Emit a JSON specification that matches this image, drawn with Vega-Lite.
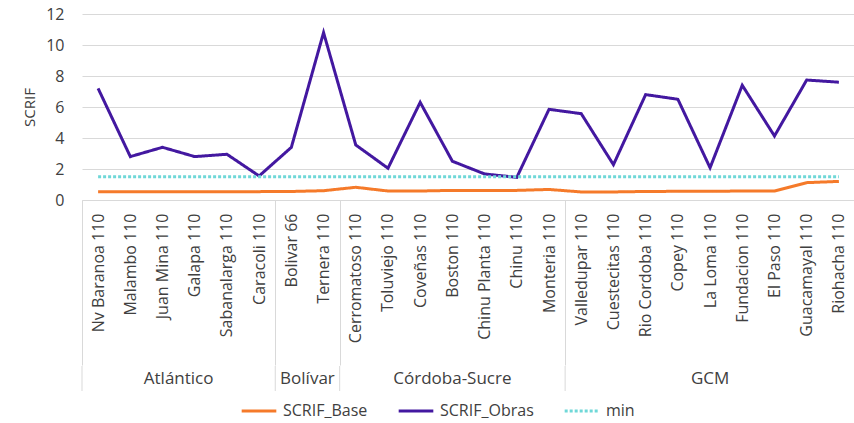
{
  "$schema": "https://vega.github.io/schema/vega-lite/v6.json",
  "padding": {"left": 22, "top": 6, "right": 0, "bottom": 2},
  "config": {
    "font": "Open Sans",
    "view": {"stroke": null},
    "concat": {"spacing": 0}
  },
  "data": {
    "values": [
      {"station": "Nv Baranoa 110", "group": "Atlántico", "SCRIF_Base": 0.54, "SCRIF_Obras": 7.2, "min": 1.5},
      {"station": "Malambo 110", "group": "Atlántico", "SCRIF_Base": 0.54, "SCRIF_Obras": 2.8, "min": 1.5},
      {"station": "Juan Mina 110", "group": "Atlántico", "SCRIF_Base": 0.54, "SCRIF_Obras": 3.4, "min": 1.5},
      {"station": "Galapa 110", "group": "Atlántico", "SCRIF_Base": 0.54, "SCRIF_Obras": 2.8, "min": 1.5},
      {"station": "Sabanalarga 110", "group": "Atlántico", "SCRIF_Base": 0.54, "SCRIF_Obras": 2.95, "min": 1.5},
      {"station": "Caracoli 110", "group": "Atlántico", "SCRIF_Base": 0.54, "SCRIF_Obras": 1.55, "min": 1.5},
      {"station": "Bolivar 66", "group": "Bolívar", "SCRIF_Base": 0.55, "SCRIF_Obras": 3.4, "min": 1.5},
      {"station": "Ternera 110", "group": "Bolívar", "SCRIF_Base": 0.6, "SCRIF_Obras": 10.8, "min": 1.5},
      {"station": "Cerromatoso 110", "group": "Córdoba-Sucre", "SCRIF_Base": 0.82, "SCRIF_Obras": 3.55, "min": 1.5},
      {"station": "Toluviejo 110", "group": "Córdoba-Sucre", "SCRIF_Base": 0.58, "SCRIF_Obras": 2.05, "min": 1.5},
      {"station": "Coveñas 110", "group": "Córdoba-Sucre", "SCRIF_Base": 0.58, "SCRIF_Obras": 6.3, "min": 1.5},
      {"station": "Boston 110", "group": "Córdoba-Sucre", "SCRIF_Base": 0.62, "SCRIF_Obras": 2.5, "min": 1.5},
      {"station": "Chinu Planta 110", "group": "Córdoba-Sucre", "SCRIF_Base": 0.62, "SCRIF_Obras": 1.68, "min": 1.5},
      {"station": "Chinu 110", "group": "Córdoba-Sucre", "SCRIF_Base": 0.62, "SCRIF_Obras": 1.46, "min": 1.5},
      {"station": "Monteria 110", "group": "Córdoba-Sucre", "SCRIF_Base": 0.68, "SCRIF_Obras": 5.85, "min": 1.5},
      {"station": "Valledupar 110", "group": "GCM", "SCRIF_Base": 0.52, "SCRIF_Obras": 5.57, "min": 1.5},
      {"station": "Cuestecitas 110", "group": "GCM", "SCRIF_Base": 0.52, "SCRIF_Obras": 2.28, "min": 1.5},
      {"station": "Rio Cordoba 110", "group": "GCM", "SCRIF_Base": 0.55, "SCRIF_Obras": 6.8, "min": 1.5},
      {"station": "Copey 110", "group": "GCM", "SCRIF_Base": 0.56, "SCRIF_Obras": 6.5, "min": 1.5},
      {"station": "La Loma 110", "group": "GCM", "SCRIF_Base": 0.56, "SCRIF_Obras": 2.08, "min": 1.5},
      {"station": "Fundacion 110", "group": "GCM", "SCRIF_Base": 0.58, "SCRIF_Obras": 7.4, "min": 1.5},
      {"station": "El Paso 110", "group": "GCM", "SCRIF_Base": 0.58, "SCRIF_Obras": 4.13, "min": 1.5},
      {"station": "Guacamayal 110", "group": "GCM", "SCRIF_Base": 1.12, "SCRIF_Obras": 7.74, "min": 1.5},
      {"station": "Riohacha 110", "group": "GCM", "SCRIF_Base": 1.2, "SCRIF_Obras": 7.6, "min": 1.5}
    ]
  },
  "resolve": {"scale": {"x": "shared"}, "legend": {"color": "shared", "strokeDash": "shared"}},
  "vconcat": [
    {
      "width": 773,
      "height": 186,
      "transform": [{"fold": ["SCRIF_Base", "SCRIF_Obras", "min"], "as": ["series", "value"]}],
      "mark": {"type": "line"},
      "encoding": {
        "x": {
          "field": "station",
          "type": "nominal",
          "sort": null,
          "bandPosition": 0.5,
          "scale": {
            "type": "band",
            "paddingInner": 0,
            "paddingOuter": 0,
            "domain": ["Nv Baranoa 110", "Malambo 110", "Juan Mina 110", "Galapa 110", "Sabanalarga 110", "Caracoli 110", "Bolivar 66", "Ternera 110", "Cerromatoso 110", "Toluviejo 110", "Coveñas 110", "Boston 110", "Chinu Planta 110", "Chinu 110", "Monteria 110", "Valledupar 110", "Cuestecitas 110", "Rio Cordoba 110", "Copey 110", "La Loma 110", "Fundacion 110", "El Paso 110", "Guacamayal 110", "Riohacha 110"]
          },
          "axis": {
            "title": null,
            "labelAngle": 270,
            "labelAlign": "right",
            "labelBaseline": "middle",
            "labelFontSize": 16,
            "labelColor": "#404040",
            "labelPadding": -152,
            "tickBand": "extent",
            "tickSize": 165,
            "tickColor": {
              "condition": {"test": "datum.extra || indexof(['Caracoli 110','Ternera 110','Monteria 110'], datum.value) >= 0", "value": "#d9d9d9"},
              "value": "transparent"
            },
            "domainColor": "#d9d9d9",
            "grid": false
          }
        },
        "y": {
          "field": "value",
          "type": "quantitative",
          "title": "SCRIF",
          "scale": {"domain": [0, 12]},
          "axis": {
            "values": [0, 2, 4, 6, 8, 10, 12],
            "domain": false,
            "ticks": false,
            "gridColor": "#d9d9d9",
            "labelFontSize": 16,
            "labelColor": "#404040",
            "labelPadding": 18,
            "titleFontSize": 15,
            "titleFontWeight": "normal",
            "titleColor": "#404040",
            "titlePadding": 8
          }
        },
        "color": {
          "field": "series",
          "type": "nominal",
          "title": null,
          "scale": {"domain": ["SCRIF_Base", "SCRIF_Obras", "min"], "range": ["#f57a2a", "#4318a0", "#6fd8d8"]},
          "legend": {
            "orient": "none",
            "legendX": 158,
            "legendY": 378,
            "direction": "horizontal",
            "symbolType": "stroke",
            "symbolSize": 1200,
            "labelFontSize": 16,
            "labelColor": "#404040",
            "labelOffset": 5,
            "columnPadding": 24
          }
        },
        "strokeDash": {
          "field": "series",
          "type": "nominal",
          "title": null,
          "scale": {"domain": ["SCRIF_Base", "SCRIF_Obras", "min"], "range": [[1, 0], [1, 0], [3, 2]]},
          "legend": {
            "orient": "none",
            "legendX": 158,
            "legendY": 378,
            "direction": "horizontal",
            "symbolType": "stroke",
            "symbolSize": 1200,
            "labelFontSize": 16,
            "labelColor": "#404040",
            "labelOffset": 5,
            "columnPadding": 24
          }
        },
        "strokeWidth": {
          "field": "series",
          "type": "nominal",
          "legend": null,
          "scale": {"domain": ["SCRIF_Base", "SCRIF_Obras", "min"], "range": [3, 3, 1.5]}
        }
      }
    },
    {
      "width": 773,
      "height": 25,
      "transform": [
        {"window": [{"op": "row_number", "as": "rn"}], "groupby": ["group"]},
        {"joinaggregate": [{"op": "count", "as": "n"}], "groupby": ["group"]}
      ],
      "layer": [
        {
          "transform": [{"filter": "datum.rn == 1"}],
          "mark": {"type": "tick", "orient": "vertical", "size": 25, "thickness": 1, "color": "#d9d9d9", "opacity": 1},
          "encoding": {
            "x": {
              "field": "station", "type": "nominal", "sort": null, "bandPosition": 0, "axis": null,
              "scale": {"type": "band", "paddingInner": 0, "paddingOuter": 0,
                "domain": ["Nv Baranoa 110", "Malambo 110", "Juan Mina 110", "Galapa 110", "Sabanalarga 110", "Caracoli 110", "Bolivar 66", "Ternera 110", "Cerromatoso 110", "Toluviejo 110", "Coveñas 110", "Boston 110", "Chinu Planta 110", "Chinu 110", "Monteria 110", "Valledupar 110", "Cuestecitas 110", "Rio Cordoba 110", "Copey 110", "La Loma 110", "Fundacion 110", "El Paso 110", "Guacamayal 110", "Riohacha 110"]}
            }
          }
        },
        {
          "transform": [{"filter": "datum.n % 2 == 1 && datum.rn == (datum.n + 1) / 2"}],
          "mark": {"type": "text", "fontSize": 17, "color": "#404040", "align": "center", "baseline": "middle"},
          "encoding": {
            "x": {
              "field": "station", "type": "nominal", "sort": null, "bandPosition": 0.5, "axis": null,
              "scale": {"type": "band", "paddingInner": 0, "paddingOuter": 0,
                "domain": ["Nv Baranoa 110", "Malambo 110", "Juan Mina 110", "Galapa 110", "Sabanalarga 110", "Caracoli 110", "Bolivar 66", "Ternera 110", "Cerromatoso 110", "Toluviejo 110", "Coveñas 110", "Boston 110", "Chinu Planta 110", "Chinu 110", "Monteria 110", "Valledupar 110", "Cuestecitas 110", "Rio Cordoba 110", "Copey 110", "La Loma 110", "Fundacion 110", "El Paso 110", "Guacamayal 110", "Riohacha 110"]}
            },
            "text": {"field": "group"}
          }
        },
        {
          "transform": [{"filter": "datum.n % 2 == 0 && datum.rn == datum.n / 2 + 1"}],
          "mark": {"type": "text", "fontSize": 17, "color": "#404040", "align": "center", "baseline": "middle"},
          "encoding": {
            "x": {
              "field": "station", "type": "nominal", "sort": null, "bandPosition": 0, "axis": null,
              "scale": {"type": "band", "paddingInner": 0, "paddingOuter": 0,
                "domain": ["Nv Baranoa 110", "Malambo 110", "Juan Mina 110", "Galapa 110", "Sabanalarga 110", "Caracoli 110", "Bolivar 66", "Ternera 110", "Cerromatoso 110", "Toluviejo 110", "Coveñas 110", "Boston 110", "Chinu Planta 110", "Chinu 110", "Monteria 110", "Valledupar 110", "Cuestecitas 110", "Rio Cordoba 110", "Copey 110", "La Loma 110", "Fundacion 110", "El Paso 110", "Guacamayal 110", "Riohacha 110"]}
            },
            "text": {"field": "group"}
          }
        }
      ]
    }
  ]
}
